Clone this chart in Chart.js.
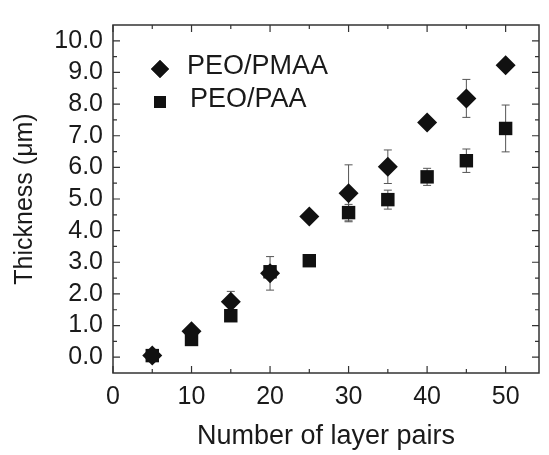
<!DOCTYPE html>
<html>
<head>
<meta charset="utf-8">
<script src="https://cdn.jsdelivr.net/npm/chart.js@4.4.0/dist/chart.umd.min.js"></script>
<style>
  html, body { margin: 0; padding: 0; background: #fff; }
</style>
</head>
<body>
<canvas id="myChart" width="549" height="455"></canvas>
<script>
// datos
const layerPairs = [5, 10, 15, 20, 25, 30, 35, 40, 45, 50]
const pmaaThickness = [0.05, 0.82, 1.75, 2.65, 4.45, 5.18, 6.02, 7.42, 8.18, 9.23]
const pmaaError = [0, 0, 0.33, 0.53, 0, 0.9, 0.53, 0, 0.6, 0]
const paaThickness = [0.05, 0.56, 1.31, 2.7, 3.05, 4.57, 4.98, 5.7, 6.21, 7.23]
const paaError = [0, 0, 0, 0, 0, 0.26, 0.3, 0.27, 0.37, 0.74]
const xTicks = [0, 10, 20, 30, 40, 50]
const yTicks = [0, 1, 2, 3, 4, 5, 6, 7, 8, 9, 10]

const textColor = '#1a1a1a'
const fontFamily = '"Liberation Sans", Arial, Helvetica, sans-serif'

const toPoints = (xs, ys) => xs.map((x, i) => ({x: x, y: ys[i]}))

// barras de error
const errorBars = {
    id: 'errorBars',
    beforeDatasetsDraw(chart) {
        const {ctx, scales: {x, y}} = chart
        ctx.save()
        ctx.strokeStyle = '#555'
        ctx.lineWidth = 1
        chart.data.datasets.forEach(ds => {
            ds.data.forEach((p, i) => {
                const err = ds.errors[i]
                if (!err) return
                const px = x.getPixelForValue(p.x)
                const top = y.getPixelForValue(p.y + err)
                const bot = y.getPixelForValue(p.y - err)
                ctx.beginPath()
                ctx.moveTo(px, top); ctx.lineTo(px, bot)
                ctx.moveTo(px - 4, top); ctx.lineTo(px + 4, top)
                ctx.moveTo(px - 4, bot); ctx.lineTo(px + 4, bot)
                ctx.stroke()
            })
        })
        ctx.restore()
    }
}

// marco con ticks hacia dentro
const frame = {
    id: 'frame',
    afterDraw(chart) {
        const {ctx, chartArea: a, scales: {x, y}} = chart
        ctx.save()
        ctx.strokeStyle = '#333'
        ctx.lineWidth = 1.5
        ctx.strokeRect(a.left, a.top, a.right - a.left, a.bottom - a.top)
        ctx.lineWidth = 1.2
        ctx.beginPath()
        const yVals = []
        yTicks.forEach((v, i) => {
            yVals.push([v, 7])
            if (i < yTicks.length - 1) yVals.push([(v + yTicks[i + 1]) / 2, 4])
        })
        yVals.forEach(([v, len]) => {
            const py = y.getPixelForValue(v)
            ctx.moveTo(a.left, py); ctx.lineTo(a.left + len, py)
            ctx.moveTo(a.right, py); ctx.lineTo(a.right - len, py)
        })
        const xVals = []
        xTicks.forEach((v, i) => {
            xVals.push([v, 7])
            if (i < xTicks.length - 1) xVals.push([(v + xTicks[i + 1]) / 2, 4])
        })
        xVals.forEach(([v, len]) => {
            const px = x.getPixelForValue(v)
            ctx.moveTo(px, a.bottom); ctx.lineTo(px, a.bottom - len)
            ctx.moveTo(px, a.top); ctx.lineTo(px, a.top + len)
        })
        ctx.stroke()
        ctx.restore()
    }
}

// leyenda dentro del area
const innerLegend = {
    id: 'innerLegend',
    afterDraw(chart) {
        const {ctx, chartArea: a} = chart
        ctx.save()
        ctx.font = '27px ' + fontFamily
        ctx.fillStyle = textColor
        ctx.textBaseline = 'middle'
        chart.data.datasets.forEach((ds, i) => {
            const cy = a.top + 44 + i * 33
            ctx.fillStyle = '#111'
            Chart.helpers.drawPoint(ctx, {
                pointStyle: ds.pointStyle,
                radius: ds.legendRadius,
                rotation: 0,
                borderWidth: 0
            }, a.left + 47, cy)
            ctx.fill()
            ctx.fillStyle = textColor
            ctx.fillText(ds.label, a.left + 74 + i * 3, cy - 2)
        })
        ctx.restore()
    }
}

const ctx = document.querySelector('#myChart')
new Chart(ctx, {
    type: 'scatter',
    data: {
        datasets: [
            {
                label: 'PEO/PMAA',
                data: toPoints(layerPairs, pmaaThickness),
                errors: pmaaError,
                pointStyle: 'rectRot',
                pointRadius: 10,
                legendRadius: 9,
                backgroundColor: '#111',
                borderColor: '#111',
                borderWidth: 0,
            },
            {
                label: 'PEO/PAA',
                data: toPoints(layerPairs, paaThickness),
                errors: paaError,
                pointStyle: 'rect',
                pointRadius: 9.5,
                legendRadius: 8.5,
                backgroundColor: '#111',
                borderColor: '#111',
                borderWidth: 0,
            },
        ],
    },
    options: {
        responsive: false,
        animation: false,
        layout: {padding: {top: 13, right: 1, left: 0, bottom: 0}},
        plugins: {
            legend: {display: false},
            tooltip: {enabled: false},
        },
        scales: {
            x: {
                type: 'linear',
                min: 0,
                max: 54.25,
                afterBuildTicks: scale => { scale.ticks = xTicks.map(v => ({value: v})) },
                afterFit: scale => { scale.height = 82 },
                grid: {display: false, drawTicks: false},
                border: {display: false},
                ticks: {
                    color: textColor,
                    padding: 9,
                    font: {family: fontFamily, size: 25},
                    maxRotation: 0,
                },
                title: {
                    display: true,
                    text: 'Number of layer pairs',
                    color: textColor,
                    font: {family: fontFamily, size: 27},
                    padding: {top: 0, bottom: 2},
                },
            },
            y: {
                type: 'linear',
                min: -0.5,
                max: 10.5,
                afterBuildTicks: scale => { scale.ticks = yTicks.map(v => ({value: v})) },
                afterFit: scale => { scale.width = 113 },
                grid: {display: false, drawTicks: false},
                border: {display: false},
                ticks: {
                    color: textColor,
                    padding: 10,
                    font: {family: fontFamily, size: 25},
                    callback: v => v.toFixed(1),
                },
                title: {
                    display: true,
                    text: 'Thickness (\u03bcm)',
                    color: textColor,
                    font: {family: fontFamily, size: 25},
                    padding: {top: 10, bottom: 0},
                },
            },
        },
    },
    plugins: [errorBars, frame, innerLegend],
})
</script>
</body>
</html>
